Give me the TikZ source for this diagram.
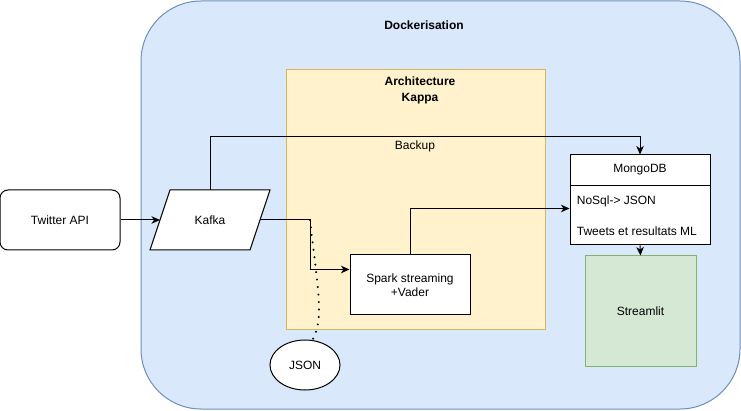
\documentclass[tikz,border=0pt]{standalone}
\usepackage{fontspec}
\setmainfont{Liberation Sans}
\usetikzlibrary{arrows.meta,calc}
\usetikzlibrary{shapes.geometric}
\definecolor{dockerFill}{HTML}{DAE8FC}
\definecolor{dockerLine}{HTML}{6C8EBF}
\definecolor{kappaFill}{HTML}{FFF2CC}
\definecolor{kappaLine}{HTML}{D6B656}
\definecolor{litFill}{HTML}{D5E8D4}
\definecolor{litLine}{HTML}{82B366}
\tikzset{
	box/.style={draw, fill=white, inner sep=0pt, align=center},
	title/.style={font=\fontsize{12}{16}\selectfont\bfseries, align=center},
	flow/.style={draw, -{Stealth[length=8.5pt,width=7.5pt,inset=2.5pt]}},
	dots/.style={line width=2.2pt, line cap=round, dash pattern=on 0pt off 7.5pt},
}
\begin{document}
\begin{tikzpicture}[x=1pt,y=-1pt,line width=1pt,font=\fontsize{12}{14}\selectfont]
	\pgfmathsetmacro{\rowH}{30};
	\pgfmathsetmacro{\slant}{10};
	\useasboundingbox (0,0) rectangle (741,411);
%
	\draw[dockerLine, fill=dockerFill, rounded corners=60pt] (141,1) rectangle (740,409);
	\node[title] (docker) at (424,25) {Dockerisation};
	\draw[kappaLine, fill=kappaFill] (286,70) rectangle (545,330);
	\node[title] (kappa) at (420,90) {Architecture\\Kappa};
	\node (backup) at (415,146) {Backup};
%
	\node[box, rounded corners=8pt, minimum width=120, minimum height=60] (twitter) at (60,220) {Twitter API};
	\begin{scope}[shift={(210,220)}]
		\draw[fill=white] (-60,30) -- (-40,-30) -- (60,-30) -- (40,30) -- cycle;
		\node (kafka) at (0,0) {Kafka};
		\coordinate (kafkaW) at (-50,0);
		\coordinate (kafkaE) at (50,0);
		\coordinate (kafkaN) at (0,-30);
	\end{scope}
	\node[box, minimum width=120, minimum height=60] (spark) at (410,285) {Spark streaming\\+Vader};
	\node[box, minimum width=140, minimum height=3*\rowH] (mongobody) at (640,200) {};
	\node[minimum width=140, minimum height=\rowH, anchor=north] (mongo) at (mongobody.north) {MongoDB};
	\draw (mongo.south west) -- (mongo.south east);
	\node[anchor=west] (nosql) at (573,201) {NoSql-> JSON};
	\node[anchor=west] (tweets) at (573,231) {Tweets et resultats ML};
	\node[box, draw=litLine, fill=litFill, minimum width=111, minimum height=110] (streamlit) at (640.5,311) {Streamlit};
	\node[box, ellipse, minimum width=70, minimum height=50] (json) at (305,365) {JSON};
%
	\coordinate (split) at (310,220);
	\coordinate (sparkin) at ($(spark.north west)+(0,15)$);
	\coordinate (mongoin) at ($(mongo.south west)+(0,23)$);
	\coordinate (jsonin) at (313,339);
	\draw[flow] (twitter.east) -- (kafkaW);
	\draw[flow] (kafkaN) -- ++(0,-53) -| (mongobody.north);
	\draw[flow] (kafkaE) -- (split) |- (sparkin);
	\draw[flow] (spark.north) |- (mongoin);
	\draw[flow] (mongobody.south) -- (streamlit.north);
	\draw[dots] (split) .. controls (318,290) and (324,318) .. (jsonin);
\end{tikzpicture}
\end{document}
